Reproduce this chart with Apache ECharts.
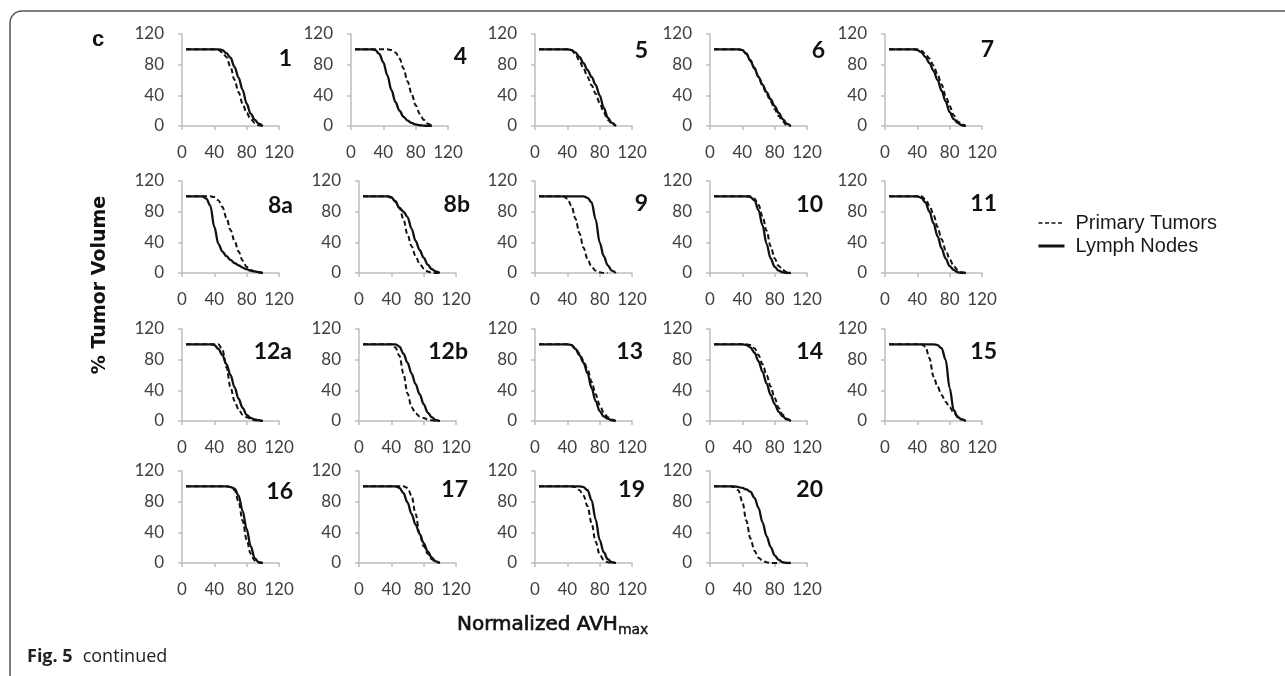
<!DOCTYPE html>
<html><head><meta charset="utf-8">
<script src="https://cdn.jsdelivr.net/npm/echarts@6/dist/echarts.min.js"></script>
<style>html,body{margin:0;padding:0;background:#fff}#c{width:1285px;height:676px}</style>
</head><body><div id="c"></div><script>
// ---- data ----
const xValues = [5,10,15,20,25,30,35,40,45,50,55,60,65,70,75,80,85,90,95,100];
const xTicks = [0,40,80,120];
const yTicks = [0,40,80,120];
const panelNames = ['1','4','5','6','7','8a','8b','9','10','11','12a','12b','13','14','15','16','17','19','20'];
const seriesNames = ['Primary Tumors','Lymph Nodes'];

const primary_1  = [100,100,100,100,100,100,100,100,99,96,90,77,60,44,29,17,9,4,1,0];
const lymph_1    = [100,100,100,100,100,100,100,100,100,99,95,89,77,63,47,29,16,8,3,0];
const primary_4  = [100,100,100,100,100,100,100,100,100,99,96,88,75,58,42,27,16,8,3,0];
const lymph_4    = [100,100,100,100,100,99,94,83,66,47,31,20,12,7,4,2,1,0.5,0.2,0];
const primary_5  = [100,100,100,100,100,100,100,100,99,94,85,75,64,53,42,30,18,8,3,0];
const lymph_5    = [100,100,100,100,100,100,100,100,99,96,90,82,73,64,54,40,24,11,4,0];
const primary_6  = [100,100,100,100,100,100,100,99,95,86,76,64,53,42,32,22,13,6,1,0];
const lymph_6    = [100,100,100,100,100,100,100,99,94,85,75,64,54,44,35,26,17,9,3,0];
const primary_7  = [100,100,100,100,100,100,100,100,98,94,88,79,67,54,40,26,14,6,2,0];
const lymph_7    = [100,100,100,100,100,100,100,99,96,90,82,72,60,46,32,18,9,4,1,0];
const primary_8a = [100,100,100,100,100,100,100,99,95,86,72,56,42,28,16,8,4,2,1,0];
const lymph_8a   = [100,100,100,100,100,97,88,60,38,28,22,17,13,10,7,5,3,2,1,0];
const primary_8b = [100,100,100,100,100,100,100,98,94,85,70,50,35,22,12,6,2,0.5,0,0];
const lymph_8b   = [100,100,100,100,100,100,100,99,93,85,80,73,58,42,30,20,11,5,2,0];
const primary_9  = [100,100,100,100,100,100,100,97,88,71,52,33,18,8,3,1,0,0,null,null];
const lymph_9    = [100,100,100,100,100,100,100,100,100,100,100,100,98,92,70,40,22,10,3,0];
const primary_10 = [100,100,100,100,100,100,100,100,100,100,97,89,74,55,35,19,9,4,1,0];
const lymph_10   = [100,100,100,100,100,100,100,100,100,99,95,82,62,38,19,8,3,1,0,0];
const primary_11 = [100,100,100,100,100,100,100,100,100,96,88,76,60,44,30,18,9,4,1,0];
const lymph_11   = [100,100,100,100,100,100,100,100,98,92,80,65,48,32,19,9,4,1,0,0];
const primary_12a= [100,100,100,100,100,100,100,100,100,93,70,44,26,15,8,5,3,1,0,0];
const lymph_12a  = [100,100,100,100,100,100,100,99,94,86,74,60,44,29,17,8,4,2,1,0];
const primary_12b= [100,100,100,100,100,100,100,100,96,85,62,36,18,10,6,4,2,1,0,0];
const lymph_12b  = [100,100,100,100,100,100,100,100,100,97,88,76,62,48,35,22,11,5,1,0];
const primary_13 = [100,100,100,100,100,100,100,100,99,95,88,79,67,51,35,21,11,5,2,0];
const lymph_13   = [100,100,100,100,100,100,100,100,99,94,86,76,62,43,26,13,6,3,1,0];
const primary_14 = [100,100,100,100,100,100,100,100,100,99,95,86,74,60,45,30,17,8,3,0];
const lymph_14   = [100,100,100,100,100,100,100,100,99,96,89,78,64,49,34,22,12,6,2,0];
const primary_15 = [100,100,100,100,100,100,100,100,100,97,82,58,45,34,25,18,11,6,2,0];
const lymph_15   = [100,100,100,100,100,100,100,100,100,100,100,100,99,95,80,43,14,5,2,0];
const primary_16 = [100,100,100,100,100,100,100,100,100,100,100,99,95,80,55,30,12,3,0.5,0];
const lymph_16   = [100,100,100,100,100,100,100,100,100,100,100,99,97,88,68,44,22,6,1,0];
const primary_17 = [100,100,100,100,100,100,100,100,100,100,100,98,88,64,38,22,12,5,1,0];
const lymph_17   = [100,100,100,100,100,100,100,100,100,98,91,79,64,50,38,26,15,7,2,0];
const primary_19 = [100,100,100,100,100,100,100,100,100,99,95,88,74,52,28,11,4,1,0,0];
const lymph_19   = [100,100,100,100,100,100,100,100,100,100,100,99,95,82,57,30,14,5,1,0];
const primary_20 = [100,100,100,100,100,99,95,80,55,32,16,7,3,1,0,0,0,null,null,null];
const lymph_20   = [100,100,100,100,100,100,99,98,96,93,85,72,53,35,21,10,4,1,0,0];

const primaryData = [primary_1,primary_4,primary_5,primary_6,primary_7,primary_8a,primary_8b,primary_9,primary_10,primary_11,primary_12a,primary_12b,primary_13,primary_14,primary_15,primary_16,primary_17,primary_19,primary_20];
const lymphData = [lymph_1,lymph_4,lymph_5,lymph_6,lymph_7,lymph_8a,lymph_8b,lymph_9,lymph_10,lymph_11,lymph_12a,lymph_12b,lymph_13,lymph_14,lymph_15,lymph_16,lymph_17,lymph_19,lymph_20];

// ---- layout ----
const gridTops = [34, 181, 329, 471];
const gridLeftsRow1 = [182, 351, 535, 710, 885];
const gridLeftsOther = [182, 359, 535, 710, 885];
const plotW = 97, plotH = 92;
const labelRight = [292,467,648,825,994, 293,470,648,823,997, 292,468,643,823,997, 293,468,645,823];
const labelY     = [59,57,51,51,50, 206,205,204,205,204, 352,352,352,352,352, 492,490,490,490];

const axisGray = '#bdbdbd';
const tickFont = {fontFamily:'Lato', fontSize:17, color:'#404040'};

const grids=[], xAxes=[], yAxes=[], series=[], graphics=[];
panelNames.forEach((name,i)=>{
  const row = Math.floor(i/5), col = i%5;
  const left = row===0 ? gridLeftsRow1[col] : gridLeftsOther[col];
  grids.push({left:left, top:gridTops[row], width:plotW, height:plotH});
  xAxes.push({type:'value', gridIndex:i, min:xTicks[0], max:xTicks[xTicks.length-1], interval:xTicks[1]-xTicks[0],
    axisLine:{show:true, onZero:false, lineStyle:{color:axisGray, width:1.5}},
    axisTick:{show:true, length:4, lineStyle:{color:axisGray, width:1.5}},
    splitLine:{show:false},
    axisLabel:Object.assign({margin:18}, tickFont)});
  yAxes.push({type:'value', gridIndex:i, min:yTicks[0], max:yTicks[yTicks.length-1], interval:yTicks[1]-yTicks[0],
    axisLine:{show:true, lineStyle:{color:axisGray, width:1.5}},
    axisTick:{show:true, length:4, lineStyle:{color:axisGray, width:1.5}},
    splitLine:{show:false},
    axisLabel:Object.assign({margin:18}, tickFont)});
  series.push({name:seriesNames[1], type:'line', xAxisIndex:i, yAxisIndex:i, symbol:'none', smooth:0.35, smoothMonotone:'x',
    data:xValues.map((x,j)=>[x, lymphData[i][j]]), lineStyle:{color:'#111', width:2.3, type:'solid'}, itemStyle:{color:'#111'}, z:3});
  series.push({name:seriesNames[0], type:'line', xAxisIndex:i, yAxisIndex:i, symbol:'none', smooth:0.35, smoothMonotone:'x',
    data:xValues.map((x,j)=>[x, primaryData[i][j]]), lineStyle:{color:'#111', width:2, type:[5,3]}, itemStyle:{color:'#111'}, z:4});
  graphics.push({type:'text', x:labelRight[i], y:labelY[i], z:10,
    style:{text:name, textAlign:'right', textVerticalAlign:'middle', fontFamily:'Lato', fontWeight:'bold', fontSize:23, fill:'#111'}});
});

graphics.push({type:'rect', shape:{x:10, y:11, width:1400, height:800, r:[12,0,0,0]}, style:{fill:'none', stroke:'#555', lineWidth:1.5}, z:0});
graphics.push({type:'text', x:92, y:40, style:{text:'c', textAlign:'left', textVerticalAlign:'middle', fontFamily:'Liberation Sans', fontWeight:'bold', fontSize:22, fill:'#111'}});
graphics.push({type:'text', x:100, y:285, rotation:Math.PI/2, style:{text:'% Tumor Volume', textAlign:'center', textVerticalAlign:'middle', fontFamily:'DejaVu Sans', fontWeight:'bold', fontSize:19, fill:'#111'}});
graphics.push({type:'text', x:457, y:625, style:{text:'{n|Normalized AVH}{s|max}', textAlign:'left', textVerticalAlign:'middle',
  rich:{n:{fontFamily:'DejaVu Sans', fontSize:20, fill:'#111', stroke:'#111', lineWidth:0.7},
        s:{fontFamily:'DejaVu Sans', fontSize:14, fill:'#111', stroke:'#111', lineWidth:0.4, padding:[10,0,0,0]}}}});
graphics.push({type:'text', x:27, y:657, style:{text:'{b|Fig. 5}{n|continued}', textAlign:'left', textVerticalAlign:'middle',
  rich:{b:{fontFamily:'Open Sans', fontWeight:'bold', fontSize:18, fill:'#222', padding:[0,10,0,0]}, n:{fontFamily:'Open Sans', fontSize:18, fill:'#222'}}}});

const chart = echarts.init(document.getElementById('c'), null, {renderer:'canvas'});
chart.setOption({
  animation:false,
  backgroundColor:'#fff',
  grid:grids, xAxis:xAxes, yAxis:yAxes, series:series,
  legend:{data:[
      {name:seriesNames[0], lineStyle:{type:[4,2.5], width:1.5}},
      {name:seriesNames[1], lineStyle:{width:3}}],
    orient:'vertical', left:1032, top:208, itemWidth:26, itemHeight:14, itemGap:3,
    itemStyle:{opacity:0},
    textStyle:{fontFamily:'Liberation Sans', fontSize:20, color:'#1a1a1a', padding:[0,0,0,6]}},
  graphic:graphics
});
</script></body></html>
